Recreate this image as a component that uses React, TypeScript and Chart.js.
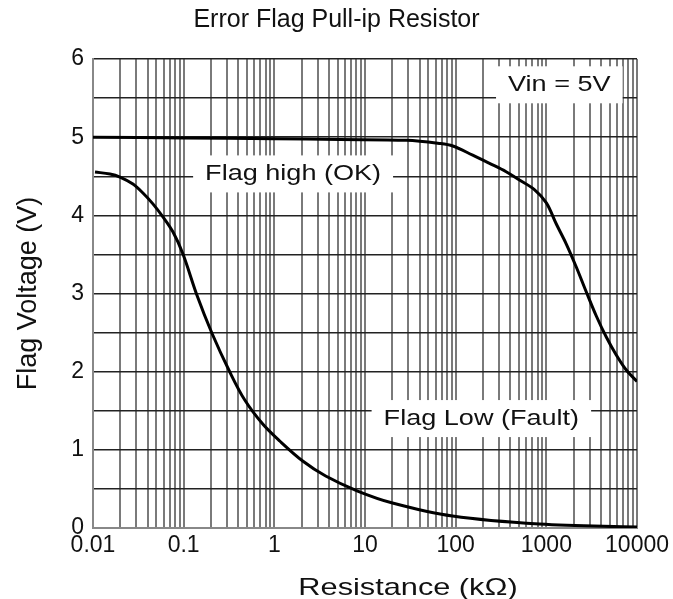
import React, { useEffect, useRef } from 'react';
import { Chart, registerables } from 'chart.js';

Chart.register(...registerables);

// ---- data ----
const chartTitle = 'Error Flag Pull-ip Resistor';
const xAxisTitle = 'Resistance (kΩ)';
const yAxisTitle = 'Flag Voltage (V)';

const decades = [0.01, 0.1, 1, 10, 100, 1000];
const decadeLabels = ['0.01', '0.1', '1', '10', '100', '1000', '10000'];
const xMin = 0.01;
const xMax = 10000;
const yTickLabels = ['0', '1', '2', '3', '4', '5', '6'];

const flagHighX = [0.01, 0.1, 1, 5.25, 28.7, 66, 93, 154, 236, 360, 505, 738, 1000, 1288, 1660, 2138, 2760, 3556, 4580, 5904, 7603, 10000];
const flagHighY = [5.0, 4.99, 4.98, 4.97, 4.96, 4.92, 4.887, 4.77, 4.665, 4.558, 4.452, 4.33, 4.16, 3.889, 3.633, 3.339, 3.019, 2.712, 2.443, 2.213, 2.021, 1.874];

const flagLowX = [0.01052, 0.01539, 0.01984, 0.02757, 0.03554, 0.04579, 0.05902, 0.07605, 0.098, 0.1398, 0.2045, 0.3227, 0.472, 0.745, 1.147, 2.055, 3.68, 8.29, 20.1, 92.2, 838, 10000];
const flagLowY = [4.554, 4.529, 4.49, 4.401, 4.286, 4.147, 3.981, 3.789, 3.508, 2.981, 2.495, 1.996, 1.637, 1.33, 1.113, 0.857, 0.665, 0.473, 0.32, 0.153, 0.051, 0.013];

const noteTexts = ['Vin = 5V', 'Flag high (OK)', 'Flag Low (Fault)'];
const noteX = [1390, 1.61, 192];
const noteY = [5.67, 4.53, 1.4];

// grid tick values (1..9 per decade)
const xGridTicks: number[] = [];
decades.forEach((d) => {
  for (let m = 1; m <= 9; m++) xGridTicks.push(+(m * d).toPrecision(6));
});
xGridTicks.push(xMax);

const FONT = '"Liberation Sans", Arial, Helvetica, sans-serif';
const STRETCH = 1.23;

const isDecade = (v: number) => Math.abs(Math.log10(v) - Math.round(Math.log10(v))) < 1e-9;

const overlayPlugin = {
  id: 'overlayNotes',
  beforeDatasetsDraw(chart: any) {
    const { ctx, scales } = chart;
    const xs = scales.x;
    const ys = scales.y;
    ctx.save();
    ctx.font = `22px ${FONT}`;
    noteTexts.forEach((t, i) => {
      const cx = xs.getPixelForValue(noteX[i]);
      const cy = ys.getPixelForValue(noteY[i]);
      const w = ctx.measureText(t).width * STRETCH;
      ctx.fillStyle = '#ffffff';
      ctx.fillRect(cx - w / 2 - 12, cy - 18.5, w + 24, 37);
      ctx.save();
      ctx.translate(cx, cy);
      ctx.scale(STRETCH, 1);
      ctx.fillStyle = '#111';
      ctx.textAlign = 'center';
      ctx.textBaseline = 'middle';
      ctx.fillText(t, 0, 0);
      ctx.restore();
    });
    ctx.restore();
  },
  afterDraw(chart: any) {
    const { ctx } = chart;
    ctx.save();
    ctx.font = `24px ${FONT}`;
    ctx.translate(408, 588);
    ctx.scale(1.28, 1);
    ctx.fillStyle = '#111';
    ctx.textAlign = 'center';
    ctx.textBaseline = 'middle';
    ctx.fillText(xAxisTitle, 0, 0);
    ctx.restore();
  },
};

export default function App() {
  const canvasRef = useRef<HTMLCanvasElement | null>(null);

  useEffect(() => {
    if (!canvasRef.current) return;
    const chart = new Chart(canvasRef.current, {
      type: 'line',
      data: {
        datasets: [
          {
            label: 'Flag high (OK)',
            data: flagHighX.map((x, i) => ({ x, y: flagHighY[i] })),
            borderColor: '#000',
            borderWidth: 3,
            pointRadius: 0,
            tension: 0.35,
            fill: false,
          },
          {
            label: 'Flag Low (Fault)',
            data: flagLowX.map((x, i) => ({ x, y: flagLowY[i] })),
            borderColor: '#000',
            borderWidth: 3,
            pointRadius: 0,
            tension: 0.35,
            fill: false,
          },
        ],
      },
      options: {
        animation: false,
        responsive: true,
        maintainAspectRatio: false,
        layout: { padding: 0 },
        plugins: {
          legend: { display: false },
          tooltip: { enabled: false },
          title: {
            display: true,
            text: chartTitle,
            color: '#111',
            font: { family: FONT, size: 25, weight: 'normal', lineHeight: 1.2 },
            padding: { top: 5, bottom: 24 },
          },
        },
        scales: {
          x: {
            type: 'logarithmic',
            min: xMin,
            max: xMax,
            afterBuildTicks: (scale: any) => {
              scale.ticks = xGridTicks.map((v) => ({ value: v, major: isDecade(v) }));
            },
            afterFit: (scale: any) => {
              scale.height = 71;
            },
            ticks: {
              autoSkip: false,
              maxRotation: 0,
              minRotation: 0,
              padding: 4,
              color: '#111',
              font: { family: FONT, size: 23 },
              callback: (v: any) => {
                const val = Number(v);
                if (!isDecade(val)) return '';
                const k = Math.round(Math.log10(val)) + 2;
                return decadeLabels[k] ?? '';
              },
            },
            grid: {
              drawTicks: false,
              color: '#7a7a7a',
              lineWidth: 2,
            },
            border: { color: '#888', width: 2 },
            title: { display: false },
          },
          y: {
            type: 'linear',
            min: 0,
            max: 6,
            afterFit: (scale: any) => {
              scale.width = 93;
            },
            ticks: {
              stepSize: 0.5,
              autoSkip: false,
              padding: 9,
              color: '#111',
              font: { family: FONT, size: 23 },
              callback: (v: any) => {
                const val = Number(v);
                if (Math.abs(val - Math.round(val)) > 1e-9) return '';
                return yTickLabels[Math.round(val)] ?? '';
              },
            },
            grid: {
              drawTicks: false,
              color: '#222',
              lineWidth: 1.4,
            },
            border: { color: '#888', width: 2 },
            title: {
              display: true,
              text: yAxisTitle,
              color: '#111',
              font: { family: FONT, size: 27, lineHeight: 1.2 },
              padding: { top: 12, bottom: 0 },
            },
          },
          spacer: {
            type: 'linear',
            position: 'right',
            display: true,
            afterFit: (scale: any) => {
              scale.width = 35;
            },
            ticks: { display: false },
            grid: { display: false },
            border: { display: false },
          },
        },
      } as any,
      plugins: [overlayPlugin],
    });
    return () => chart.destroy();
  }, []);

  return (
    <div style={{ position: 'fixed', left: 0, top: 0, width: 673, height: 599, background: '#fff' }}>
      <canvas ref={canvasRef} />
    </div>
  );
}
